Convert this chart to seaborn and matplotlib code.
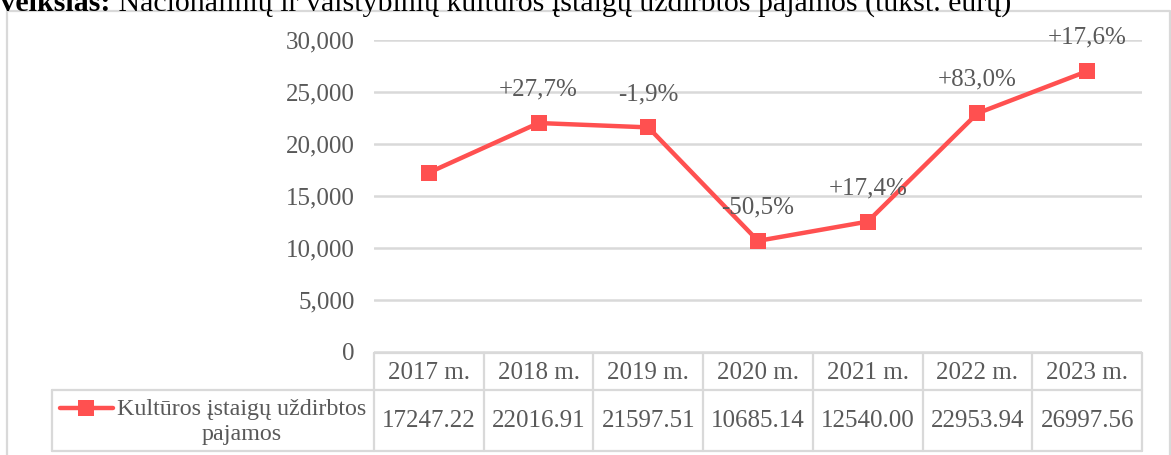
import numpy as np
import pandas as pd
import matplotlib
matplotlib.use("Agg")
import matplotlib.pyplot as plt
from matplotlib.lines import Line2D
import matplotlib.transforms as mtransforms
import seaborn as sns

years = ["2017 m.", "2018 m.", "2019 m.", "2020 m.", "2021 m.", "2022 m.", "2023 m."]
income = [17247.22, 22016.91, 21597.51, 10685.14, 12540.00, 22953.94, 26997.56]
change_labels = ["", "+27,7%", "-1,9%", "-50,5%", "+17,4%", "+83,0%", "+17,6%"]
series_name = "Kultūros įstaigų uždirbtos\npajamos"
title_bold = "Paveikslas:"
title_rest = " Nacionalinių ir valstybinių kultūros įstaigų uždirbtos pajamos (tūkst. eurų)"

RED = "#FF5050"
TXT = "#595959"
GRID = "#D9D9D9"
FS = 18

sns.set_style("white")
plt.rcParams["font.family"] = ["Liberation Serif", "DejaVu Serif"]

W, H = 1171, 455
fig = plt.figure(figsize=(W / 100, H / 100), dpi=100)


def fx(px):
    return px / W


def fy(py):
    return 1 - py / H


ax = fig.add_axes([fx(374), fy(352), fx(1142) - fx(374), fy(40) - fy(352)])

df = pd.DataFrame({"x": np.arange(len(years)), "value": income})
sns.lineplot(data=df, x="x", y="value", ax=ax, color=RED, linewidth=3.2,
             marker="s", markersize=11.5, markeredgewidth=0)

ax.set_xlim(-0.5, len(years) - 0.5)
ax.set_ylim(0, 30000)
ax.set_yticks(np.arange(0, 30001, 5000))
ax.set_yticklabels([f"{v:,}" if v else "0" for v in range(0, 30001, 5000)])
ax.set_xticks([])
ax.set_xlabel("")
ax.set_ylabel("")
ax.tick_params(axis="y", length=0, pad=14, labelsize=FS, labelcolor=TXT)
ax.yaxis.grid(True, color=GRID, linewidth=1.8)
ax.set_axisbelow(True)
for s in ax.spines.values():
    s.set_visible(False)

# percentage change labels
for i, lab in enumerate(change_labels):
    if lab:
        ax.annotate(lab, (i, income[i]), xytext=(0, 24), textcoords="offset points",
                    ha="center", va="center", fontsize=FS, color=TXT)

# data table under the chart
bt = mtransforms.blended_transform_factory(ax.transData, fig.transFigure)
y_top, y_mid, y_bot = fy(353), fy(390), fy(451)
n = len(years)
lw = 1.6
ax.add_line(Line2D([-0.5, n - 0.5], [y_top, y_top], transform=bt, color=GRID, lw=lw, clip_on=False))
for yy in (y_mid, y_bot):
    fig.add_artist(Line2D([fx(52), fx(1142)], [yy, yy], color=GRID, lw=lw))
for i in range(n + 1):
    ax.add_line(Line2D([i - 0.5, i - 0.5], [y_top, y_bot], transform=bt, color=GRID, lw=lw, clip_on=False))
fig.add_artist(Line2D([fx(52), fx(52)], [y_mid, y_bot], color=GRID, lw=lw))

for i, (yr, v) in enumerate(zip(years, income)):
    ax.text(i, fy(373), yr, transform=bt, ha="center", va="center",
            fontsize=FS, color=TXT)
    ax.text(i, fy(421), f"{v:.2f}", transform=bt, ha="center", va="center",
            fontsize=FS, color=TXT)

# legend key in the table
fig.add_artist(Line2D([fx(60), fx(113)], [fy(408), fy(408)], color=RED, lw=3.2,
                      solid_capstyle="round"))
fig.add_artist(Line2D([fx(86)], [fy(408)], color=RED, marker="s", markersize=11.5,
                      markeredgewidth=0, lw=0))
fig.text(fx(242), fy(422), series_name, ha="center", va="center",
         fontsize=17.3, color=TXT, linespacing=1.3)

# outer chart frame
fig.add_artist(Line2D([fx(7), fx(7), fx(1170), fx(1170)], [0, fy(11), fy(11), 0],
                      color=GRID, lw=1.6))

# title (clipped at top of image, as in the source page)
TFS = 21.5
r = fig.canvas.get_renderer()
probe = fig.text(0, 0, "Pa", fontsize=TFS, fontweight="bold")
pw = probe.get_window_extent(renderer=r).width
probe.remove()
t1 = fig.text((-pw + 1) / W, fy(11), title_bold, fontsize=TFS, fontweight="bold",
              color="black", va="baseline", ha="left")
bb = t1.get_window_extent(renderer=r)
fig.text(bb.x1 / W, fy(11), title_rest, fontsize=TFS, color="black",
         va="baseline", ha="left")

fig.savefig("out.png", dpi=100)
